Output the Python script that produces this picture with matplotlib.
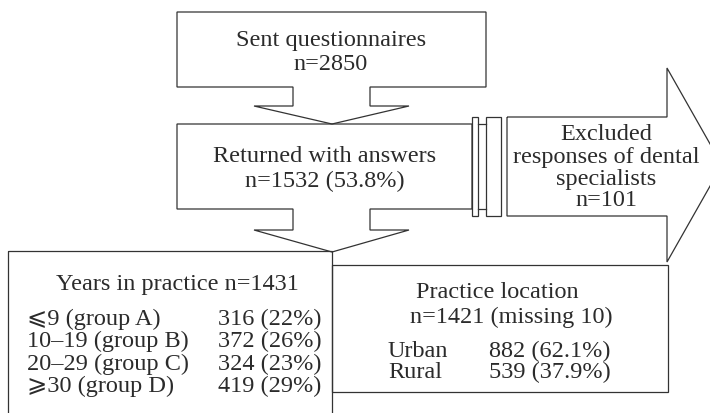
import matplotlib.pyplot as plt
from matplotlib.patches import Polygon, Rectangle

# -----------------------------------------------------------------------------
# Flowchart content
# -----------------------------------------------------------------------------
sent_lines = ["Sent questionnaires", "n=2850"]
returned_lines = ["Returned with answers", "n=1532 (53.8%)"]
excluded_lines = ["Excluded", "responses of dental", "specialists", "n=101"]

years_title = "Years in practice n=1431"
years_groups = ["⩽9 (group A)", "10–19 (group B)", "20–29 (group C)", "⩾30 (group D)"]
years_counts = [316, 372, 324, 419]
years_pct = [22, 26, 23, 29]

location_title = ["Practice location", "n=1421 (missing 10)"]
location_groups = ["Urban", "Rural"]
location_counts = [882, 539]
location_pct = [62.1, 37.9]

plt.rcParams["font.family"] = ["Liberation Serif", "DejaVu Serif", "DejaVu Sans"]

W, H = 710, 414
fig = plt.figure(figsize=(W / 100, H / 100), dpi=100)
ax = fig.add_axes([0, 0, 1, 1])
ax.set_xlim(0, W)
ax.set_ylim(H, 0)
ax.axis("off")

edge = "#333333"
lw = 0.9
fs = 17.5
tc = "#2b2b2b"


def shape(points):
    ax.add_patch(Polygon(points, closed=True, fill=False, edgecolor=edge, lw=lw))


def txt(x, y, s, ha="center"):
    ax.text(x, y, s, ha=ha, va="baseline", fontsize=fs, color=tc)


# --- top box with down arrow ---
shape([(177, 13), (486, 13), (486, 88), (370, 88), (370, 107), (409, 107),
       (332, 125), (254, 107), (293, 107), (293, 88), (177, 88)])
for line, y in zip(sent_lines, [46, 70]):
    txt(331, y, line)

# --- returned box with down arrow ---
shape([(177, 125), (472, 125), (472, 210), (370, 210), (370, 231), (409, 231),
       (332, 253), (254, 231), (293, 231), (293, 210), (177, 210)])
for line, y in zip(returned_lines, [162, 187]):
    txt(325, y, line)

# double bar between returned box and exclusion arrow
ax.add_patch(Rectangle((472, 118), 6, 99, fill=False, edgecolor=edge, lw=lw))
ax.add_patch(Rectangle((486, 118), 15, 99, fill=False, edgecolor=edge, lw=lw))
ax.plot([478, 486], [125, 125], color=edge, lw=lw)
ax.plot([478, 486], [210, 210], color=edge, lw=lw)

# --- exclusion arrow ---
shape([(507, 118), (667, 118), (667, 69), (722, 166), (667, 263), (667, 217),
       (507, 217)])
for line, y in zip(excluded_lines, [140, 163, 185, 206]):
    txt(606, y, line)

# --- years in practice box ---
ax.add_patch(Rectangle((8, 252), 324, 180, fill=False, edgecolor=edge, lw=lw))
txt(177, 290, years_title)
for i, (g, c, p) in enumerate(zip(years_groups, years_counts, years_pct)):
    y = 325 + i * 22.3
    txt(27, y, g, ha="left")
    txt(218, y, f"{c} ({p}%)", ha="left")

# --- practice location box ---
ax.add_patch(Rectangle((332, 266), 336, 127, fill=False, edgecolor=edge, lw=lw))
txt(497, 298, location_title[0])
txt(511, 323, location_title[1])
for i, (g, c, p) in enumerate(zip(location_groups, location_counts, location_pct)):
    y = 357 + i * 21.5
    txt(388, y, g, ha="left")
    txt(489, y, f"{c} ({p}%)", ha="left")

fig.savefig("out.png", dpi=100)
